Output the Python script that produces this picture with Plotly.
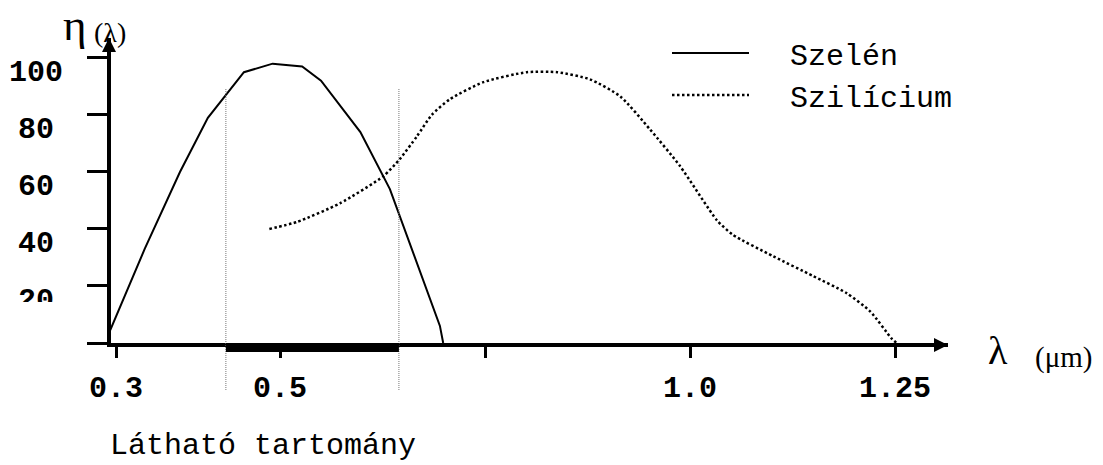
import plotly.graph_objects as go

# Relative spectral sensitivity η(λ) of selenium and silicon photocells
selen_wl = [0.293, 0.335, 0.378, 0.412, 0.456, 0.491, 0.527, 0.550, 0.598, 0.634, 0.695, 0.699]
selen_eta = [4.5, 33, 60, 79, 95, 98, 97, 92, 74, 54, 6, 0]

silicium_wl = [0.487, 0.521, 0.573, 0.626, 0.646, 0.667, 0.685, 0.707, 0.748, 0.801,
               0.838, 0.878, 0.915, 0.951, 0.988, 1.033, 1.052, 1.101, 1.150,
               1.191, 1.220, 1.246, 1.252]
silicium_eta = [40, 42.5, 49, 58.5, 64.5, 72.5, 80, 85.5, 91.5, 95,
                95, 92.5, 86.5, 75, 62, 43, 38, 30.5, 23.5,
                17.5, 11, 1.5, 0]

# Visible band limits (µm)
visible_band = [0.434, 0.645]

x_tickvals = [0.3, 0.5, 0.75, 1.0, 1.25]
x_ticktext = ["0.3", "0.5", "", "1.0", "1.25"]
y_tickvals = [0, 20, 40, 60, 80, 100]
y_labels = [100, 80, 60, 40, 20]

MONO = "Liberation Mono, Courier New, monospace"
SERIF = "Liberation Serif, Times New Roman, serif"

W, H = 1103, 465
TOP, BOTTOM = 38, 343          # plot area, px from the top
LEFT, RIGHT = 111, 948         # plot area, px from the left
Y_MAX = 107
PX_PER_UNIT = (BOTTOM - TOP) / Y_MAX
LABEL_DROP = 16                # y labels sit this many px under their ticks
LABEL_CLIP = 302               # lower edge of the y-label strip


def px_x(px):
    return px / W


def px_y(py):
    return (BOTTOM - py) / (BOTTOM - TOP)


fig = go.Figure()
fig.add_trace(go.Scatter(
    x=selen_wl, y=selen_eta, name="\u00a0\u00a0Szelén", mode="lines",
    line=dict(color="black", width=2),
))
fig.add_trace(go.Scatter(
    x=silicium_wl, y=silicium_eta, name="\u00a0\u00a0Szilícium", mode="lines",
    line=dict(color="black", width=2.5, dash="2.5px,2.5px", shape="spline", smoothing=0.6),
))

# y tick labels live in a narrow strip of their own, clipped at its lower edge
strip_lo = (BOTTOM - LABEL_CLIP) / PX_PER_UNIT
shift = LABEL_DROP / PX_PER_UNIT
fig.add_trace(go.Scatter(
    x=[0] * len(y_labels), y=y_labels, text=[str(v) for v in y_labels],
    mode="text", textposition="middle center", cliponaxis=True, showlegend=False,
    hoverinfo="skip",
    textfont=dict(family=MONO, size=30, color="black", weight="bold"),
    xaxis="x2", yaxis="y2",
))

# visible range markers
shapes = []
for wl in visible_band:
    shapes.append(dict(type="line", xref="x", yref="paper", x0=wl, x1=wl,
                       y0=px_y(390), y1=px_y(88),
                       line=dict(color="#777", width=1, dash="1px,1px")))
shapes.append(dict(type="rect", xref="x", yref="paper",
                   x0=visible_band[0], x1=visible_band[1], y0=px_y(352), y1=px_y(BOTTOM),
                   fillcolor="black", line=dict(width=0), layer="above"))

annotations = []
# arrow heads on the axes
annotations.append(dict(x=1, y=0, xref="x domain", yref="y domain", yshift=-2,
                        ax=-14, ay=0, axref="pixel", ayref="pixel", text="",
                        showarrow=True, arrowhead=2, arrowsize=0.7, arrowwidth=4,
                        arrowcolor="black", standoff=0))
annotations.append(dict(x=0, y=1, xref="x domain", yref="y domain", xshift=-2,
                        ax=0, ay=14, axref="pixel", ayref="pixel", text="",
                        showarrow=True, arrowhead=2, arrowsize=0.7, arrowwidth=4,
                        arrowcolor="black", standoff=0))
# axis titles
annotations.append(dict(x=px_x(75), y=px_y(25), xref="paper", yref="paper",
                        text="η", showarrow=False, xanchor="center", yanchor="middle",
                        font=dict(family=SERIF, size=45, color="black")))
annotations.append(dict(x=px_x(110), y=px_y(33), xref="paper", yref="paper",
                        text="(λ)", showarrow=False, xanchor="center", yanchor="middle",
                        font=dict(family=SERIF, size=28, color="black")))
annotations.append(dict(x=px_x(998), y=px_y(350), xref="paper", yref="paper",
                        text="λ", showarrow=False, xanchor="center", yanchor="middle",
                        font=dict(family=SERIF, size=40, color="black")))
annotations.append(dict(x=px_x(1063), y=px_y(357), xref="paper", yref="paper",
                        text="(μm)", showarrow=False, xanchor="center", yanchor="middle",
                        font=dict(family=SERIF, size=29, color="black")))
annotations.append(dict(x=px_x(108), y=px_y(446), xref="paper", yref="paper",
                        text="Látható tartomány", showarrow=False, xanchor="left", yanchor="middle",
                        font=dict(family=MONO, size=30, color="black")))

fig.update_layout(
    width=W, height=H,
    margin=dict(l=0, r=0, t=TOP, b=H - BOTTOM, autoexpand=False),
    paper_bgcolor="white", plot_bgcolor="white",
    showlegend=True,
    legend=dict(x=px_x(667), y=px_y(27), xanchor="left", yanchor="top",
                bgcolor="rgba(0,0,0,0)", itemwidth=77,
                font=dict(family=MONO, size=30, color="black"), tracegroupgap=0),
    shapes=shapes,
    annotations=annotations,
    xaxis=dict(
        domain=[LEFT / W, RIGHT / W], automargin=False,
        range=[0.2939, 1.3146], showgrid=False, zeroline=False,
        showline=True, linecolor="black", linewidth=4,
        ticks="outside", ticklen=11, tickwidth=3, tickcolor="black",
        tickvals=x_tickvals, ticktext=x_ticktext, ticklabelstandoff=3,
        tickfont=dict(family=MONO, size=30, color="black", weight="bold"),
    ),
    yaxis=dict(
        range=[0, Y_MAX], automargin=False, showgrid=False, zeroline=False,
        showline=True, linecolor="black", linewidth=4,
        ticks="outside", ticklen=20, tickwidth=3, tickcolor="black",
        tickvals=y_tickvals, showticklabels=False,
    ),
    xaxis2=dict(domain=[0, 72 / W], range=[-1, 1], anchor="y2", visible=False,
                fixedrange=True, automargin=False),
    yaxis2=dict(domain=[px_y(LABEL_CLIP), 1], range=[strip_lo + shift, Y_MAX + shift],
                anchor="x2", visible=False, fixedrange=True, automargin=False),
)

fig.write_html("out.html")
